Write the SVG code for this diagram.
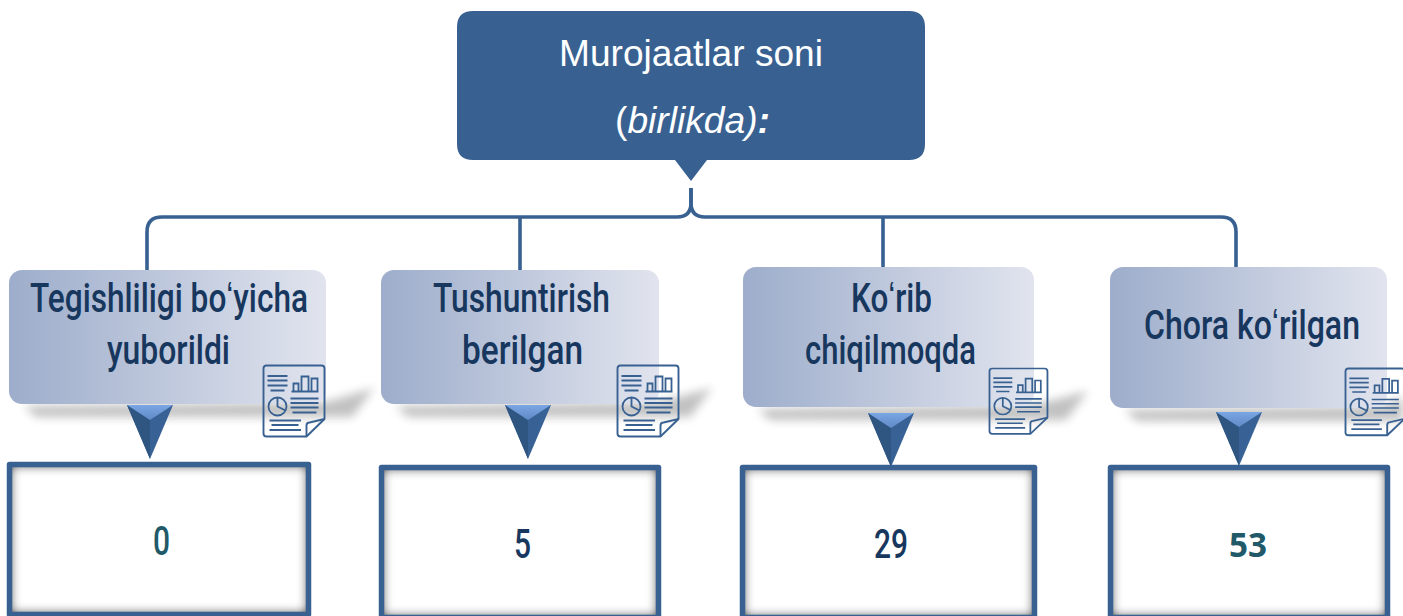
<svg xmlns="http://www.w3.org/2000/svg" xmlns:xlink="http://www.w3.org/1999/xlink" width="1403" height="616" viewBox="0 0 1403 616">
<style>
.lab{font-family:Roboto,"Liberation Sans",sans-serif;font-size:40px;font-weight:500;fill:#17375e;text-anchor:start}
.num{font-family:Roboto,"Liberation Sans",sans-serif;font-size:40px;font-weight:500}
.big{font-family:"Open Sans",sans-serif;font-size:34px;font-weight:700}
.head{font-family:"Liberation Sans",Arial,sans-serif;font-size:36px;fill:#fff}
.conn{fill:none;stroke:#386192;stroke-width:3.6}
.box{fill:url(#boxGrad)}
.shadow{fill:#8f8f8f;opacity:.55;filter:url(#blur)}
.val{fill:#fff;filter:url(#inner)}
.valb{fill:none;stroke:#386192;stroke-width:5.5;stroke-linejoin:round}
.i{fill:none;stroke:#386192;stroke-width:1.9;stroke-linejoin:round}
.il{fill:none;stroke:#386192;stroke-width:1.8}
</style>
<defs>
<linearGradient id="boxGrad" x1="0" x2="1" y1="0" y2="0"><stop offset="0" stop-color="#9dadcb"/><stop offset="1" stop-color="#e1e4ee"/></linearGradient>
<filter id="blur" x="-10%" y="-60%" width="120%" height="220%"><feGaussianBlur stdDeviation="5"/></filter>
<filter id="inner" x="-5%" y="-5%" width="110%" height="110%">
<feComponentTransfer in="SourceAlpha" result="inv"><feFuncA type="table" tableValues="1 0"/></feComponentTransfer>
<feMorphology in="inv" operator="dilate" radius="3" result="d"/>
<feGaussianBlur in="d" stdDeviation="5" result="b"/>
<feFlood flood-color="#222"/><feComposite in2="b" operator="in"/><feComposite in2="SourceAlpha" operator="in" result="s"/>
<feMerge><feMergeNode in="SourceGraphic"/><feMergeNode in="s"/></feMerge>
</filter>
<linearGradient id="arrowTop" x1="0" x2="0" y1="0" y2="1"><stop offset="0" stop-color="#7aa6e4"/><stop offset="1" stop-color="#5f8ac6"/></linearGradient>
<g id="arrow">
<polygon points="-23,0 23,0 0,54" fill="#386296"/>
<polygon points="-23,0 0,15 0,54" fill="#2f5581"/>
<polygon points="-23,0 23,0 0,15" fill="url(#arrowTop)"/>
</g>
<g id="icon">
<path class="i" d="M3 0H58Q61 0 61 3V53.500L43 71H3Q0 71 0 68V3Q0 0 3 0Z"/>
<path class="i" d="M43 71V60Q43 57 46 57L61 53.500"/>
<path class="il" d="M4 10.500H24M4 15H24M4 20H24M7 25H21"/>
<path class="il" d="M28 26H55M30 26V18H35V26M38 26V11H45V26M48 26V13H54V26"/>
<path class="il" d="M27 33H55M27 37.500H55M27 42H55M29 47H53M6 55H37.500M8 59.500H35M6 64.500H37.500"/>
<circle class="il" cx="14" cy="41" r="9"/>
<path class="il" d="M14 32V41L22 45"/>
</g>
</defs>
<rect width="1403" height="616" fill="#fff"/>
<g id="connectors">
<path class="conn" d="M691 188V203Q691 217 677 217H162Q147 217 147 232V270"/>
<path class="conn" d="M691 188V203Q691 217 705 217H1221Q1236 217 1236 232V267"/>
<path class="conn" d="M520 217V270M883 217V267"/>
</g>
<g id="node-top">
<path d="M473 11H909Q925 11 925 27V144Q925 160 909 160H707L691 181L675 160H473Q457 160 457 144V27Q457 11 473 11Z" fill="#386192"/>
<text class="head" x="559" y="66" textLength="264" lengthAdjust="spacingAndGlyphs">Murojaatlar soni</text>
<text class="head" x="615" y="133" textLength="155" lengthAdjust="spacingAndGlyphs">(<tspan font-style="italic">birlikda)</tspan><tspan font-style="italic" font-weight="bold">:</tspan></text>
</g>
<g id="node-1">
<polygon class="shadow" points="24,406 326,402 374,388 352,417 36,417"/>
<rect class="box" x="9" y="270" width="317" height="134" rx="13"/>
<text class="lab" x="30" y="312" textLength="278" lengthAdjust="spacingAndGlyphs">Tegishliligi boʻyicha</text>
<text class="lab" x="107" y="364" textLength="123" lengthAdjust="spacingAndGlyphs">yuborildi</text>
<use href="#icon" x="263.5" y="365.500"/>
<rect class="val" x="9.500" y="464.500" width="299" height="150"/>
<rect class="valb" x="9.500" y="464.500" width="299" height="150"/>
<use href="#arrow" x="150" y="405"/>
<text class="num" x="153" y="555" fill="#215968" textLength="17" lengthAdjust="spacingAndGlyphs">0</text>
</g>
<g id="node-2">
<polygon class="shadow" points="396,406 659,402 712,388 690,417 408,417"/>
<rect class="box" x="381" y="270" width="278" height="134" rx="13"/>
<text class="lab" x="433" y="312" textLength="177" lengthAdjust="spacingAndGlyphs">Tushuntirish</text>
<text class="lab" x="462" y="364" textLength="121" lengthAdjust="spacingAndGlyphs">berilgan</text>
<use href="#icon" x="617.500" y="365.500"/>
<rect class="val" x="381.500" y="467.500" width="277" height="150"/>
<rect class="valb" x="381.500" y="467.500" width="277" height="150"/>
<use href="#arrow" x="528" y="405"/>
<text class="num" x="514" y="558" fill="#17375e" textLength="17" lengthAdjust="spacingAndGlyphs">5</text>
</g>
<g id="node-3">
<polygon class="shadow" points="758,409 1034,405 1088,391 1066,420 770,420"/>
<rect class="box" x="743" y="267" width="291" height="140" rx="13"/>
<text class="lab" x="851" y="312" textLength="81" lengthAdjust="spacingAndGlyphs">Koʻrib</text>
<text class="lab" x="805" y="364" textLength="171" lengthAdjust="spacingAndGlyphs">chiqilmoqda</text>
<use href="#icon" x="989.500" y="368.500" transform="translate(989.500 368.500) scale(.95 .92) translate(-989.500 -368.500)"/>
<rect class="val" x="742.500" y="467.500" width="292" height="150"/>
<rect class="valb" x="742.500" y="467.500" width="292" height="150"/>
<use href="#arrow" x="891" y="413"/>
<text class="num" x="874" y="558" fill="#17375e" textLength="34" lengthAdjust="spacingAndGlyphs">29</text>
</g>
<g id="node-4">
<polygon class="shadow" points="1125,410 1387,406 1403,396 1403,421 1137,421"/>
<rect class="box" x="1110" y="267" width="277" height="141" rx="13"/>
<text class="lab" x="1144" y="0" transform="translate(0 339) scale(1 1.29)" style="font-size:31px" textLength="216" lengthAdjust="spacingAndGlyphs">Chora koʻrilgan</text>
<use href="#icon" x="1345.500" y="368.500" transform="translate(1345.500 368.500) scale(.97 .94) translate(-1345.500 -368.500)"/>
<rect class="val" x="1110.500" y="467.500" width="277" height="150"/>
<rect class="valb" x="1110.500" y="467.500" width="277" height="150"/>
<use href="#arrow" x="1239" y="412"/>
<text class="big" x="1229" y="557" fill="#215968" textLength="38" lengthAdjust="spacingAndGlyphs">53</text>
</g>
</svg>
